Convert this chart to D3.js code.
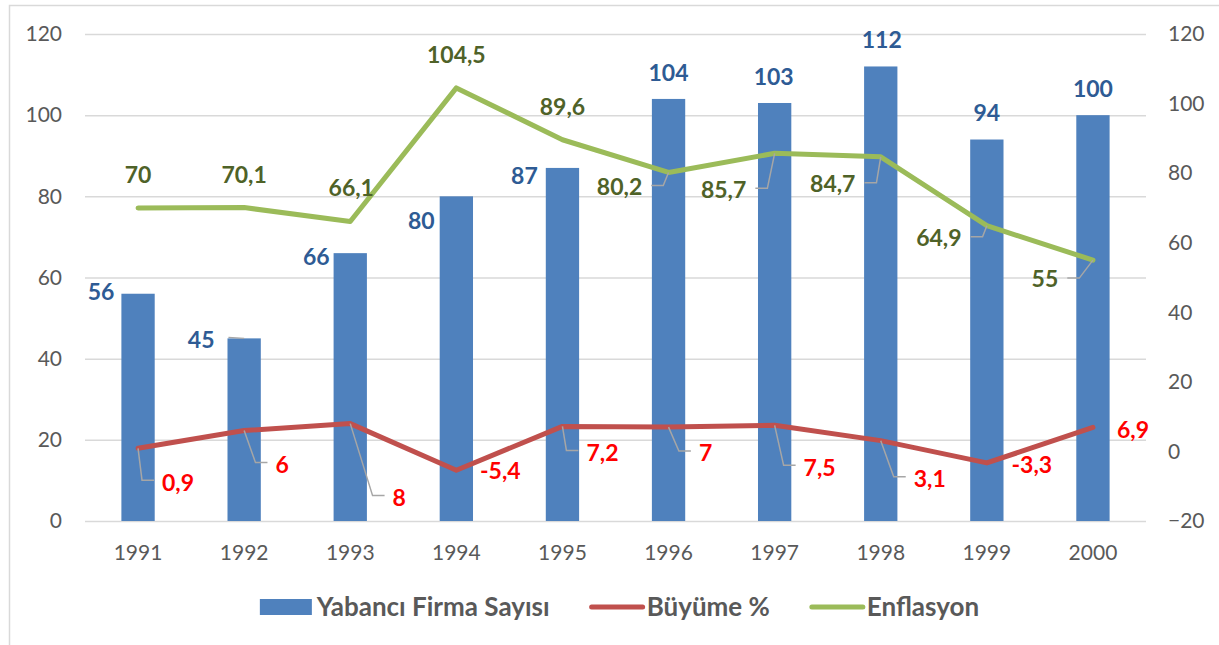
<!DOCTYPE html>
<html><head><meta charset="utf-8">
<script src="https://cdn.jsdelivr.net/npm/d3@7/dist/d3.min.js"></script>
<style>
body{margin:0;background:#fff;}
svg{display:block;font-family:Lato,"Open Sans",sans-serif;}
</style></head>
<body>
<svg id="chart" width="1219" height="645"></svg>
<script>
// ---- data ----
const years = ["1991","1992","1993","1994","1995","1996","1997","1998","1999","2000"];
const firmaSayisi = [56,45,66,80,87,104,103,112,94,100];
const buyume = [0.9,6,8,-5.4,7.2,7,7.5,3.1,-3.3,6.9];
const enflasyon = [70,70.1,66.1,104.5,89.6,80.2,85.7,84.7,64.9,55];
const leftTicks = [0,20,40,60,80,100,120];
const rightTicks = [-20,0,20,40,60,80,100,120];
const seriesNames = ["Yabancı Firma Sayısı","Büyüme %","Enflasyon"];

// label placement offsets (label centre relative to data point) and leader flags
const barLabelOff = [[-37,-2],[-43,1],[-34,4],[-35,24],[-38,8],[0,-26],[-1,-26],[1,-27],[0,-27],[0,-26]];
const barLeader = [0,1,0,0,0,0,0,0,0,0];
const redLabelOff = [[40,34],[38,34],[49,74],[44,1],[40,26],[37,26],[45,42],[49,38],[45,2],[40,2]];
const redLeader = [1,1,1,0,1,1,1,1,0,0];
const greenLabelOff = [[0,-33],[0,-33],[1,-34],[0,-33],[0,-33],[-49,14],[-51,36],[-48,27],[-48,12],[-48,19]];
const greenLeader = [0,0,0,0,0,1,1,1,1,1];

// ---- styles ----
const C = {bar:"#4F81BD", red:"#C0504D", green:"#9BBB59",
  barLbl:"#2E5B94", redLbl:"#FF0000", greenLbl:"#4F6228",
  grid:"#D9D9D9", axis:"#595959", leader:"#A6A6A6"};
const fmt = v => String(v).replace(".", ",");

const svg = d3.select("#chart");
const L = 85, R = 1146, T = 34, B = 521;

// frame
svg.append("rect").attr("x",9.5).attr("y",5.5).attr("width",1240).attr("height",700)
  .attr("fill","none").attr("stroke","#D9D9D9").attr("stroke-width",1.5);

const x = d3.scaleBand().domain(years).range([L,R]).padding(0);
const yL = d3.scaleLinear().domain([0,120]).range([B,T]);
const yR = d3.scaleLinear().domain([-20,120]).range([B,T]);
const cx = d => x(d) + x.bandwidth()/2;

// gridlines
const grid = svg.append("g").attr("transform",`translate(${L},0)`)
  .call(d3.axisLeft(yL).tickValues(leftTicks).tickSize(-(R-L)).tickFormat(""));
grid.select(".domain").remove();
grid.selectAll("line").attr("stroke",C.grid).attr("stroke-width",1.5);

const tickFont = "21px";
// left axis labels
const ax1 = svg.append("g").attr("transform",`translate(${L},0)`)
  .call(d3.axisLeft(yL).tickValues(leftTicks).tickSize(0).tickPadding(23));
ax1.select(".domain").remove();
ax1.selectAll("text").attr("fill",C.axis).style("font-size",tickFont).style("font-family","Lato");

// right axis labels
const ax2 = svg.append("g").attr("transform",`translate(${R},0)`)
  .call(d3.axisRight(yR).tickValues(rightTicks).tickSize(0).tickPadding(22));
ax2.select(".domain").remove();
ax2.selectAll("text").attr("fill",C.axis).style("font-size",tickFont).style("font-family","Lato");

// x axis labels
const ax3 = svg.append("g").attr("transform",`translate(0,${B})`)
  .call(d3.axisBottom(x).tickSize(0).tickPadding(24));
ax3.select(".domain").remove();
ax3.selectAll("text").attr("fill",C.axis).style("font-size",tickFont).style("font-family","Lato");

// bars
const bw = x.bandwidth()*0.314;
svg.append("g").selectAll("rect").data(firmaSayisi).join("rect")
  .attr("x",(d,i)=>cx(years[i])-bw/2).attr("width",bw)
  .attr("y",d=>yL(d)).attr("height",d=>yL(0)-yL(d)).attr("fill",C.bar);

// lines
const lineR = d3.line().x((d,i)=>cx(years[i])).y(d=>yR(d));
svg.append("path").datum(buyume).attr("d",lineR).attr("fill","none")
  .attr("stroke",C.red).attr("stroke-width",5).attr("stroke-linejoin","round").attr("stroke-linecap","round");
svg.append("path").datum(enflasyon).attr("d",lineR).attr("fill","none")
  .attr("stroke",C.green).attr("stroke-width",5).attr("stroke-linejoin","round").attr("stroke-linecap","round");

// labels
const leaders = svg.append("g");
function labels(vals, yScale, offs, lead, color, side){
  const g = svg.append("g");
  vals.forEach((v,i)=>{
    const px = cx(years[i]), py = yScale(v);
    const lx = px + offs[i][0], ly = py + offs[i][1];
    const t = g.append("text").attr("x",lx).attr("y",ly).attr("dy","0.36em")
      .attr("text-anchor","middle").attr("fill",color)
      .style("font-size","23px").style("font-weight","bold").style("font-family","Lato")
      .text(fmt(v));
    if(lead[i]){
      const bb = t.node().getBBox();
      let pts;
      if(side==="right"){
        const e = bb.x - 8;
        pts = [[px,py],[e-12,ly-2],[e,ly-2]];
      } else if(side==="left"){
        const e = bb.x + bb.width + 9;
        pts = [[px,py],[e+12,ly-1],[e,ly-1]];
      } else {
        const e = bb.x + bb.width + 14;
        pts = [[px,py],[e,ly-2]];
      }
      leaders.append("path").attr("d",d3.line()(pts)).attr("fill","none")
        .attr("stroke",C.leader).attr("stroke-width",1.5);
    }
  });
}
labels(firmaSayisi, yL, barLabelOff, barLeader, C.barLbl, "bar");
labels(buyume, yR, redLabelOff, redLeader, C.redLbl, "right");
labels(enflasyon, yR, greenLabelOff, greenLeader, C.greenLbl, "left");

// legend
const lg = svg.append("g");
let cur = 0;
seriesNames.forEach((n,i)=>{
  const it = lg.append("g").attr("transform",`translate(${cur},0)`);
  if(i===0) it.append("rect").attr("x",0).attr("y",-8).attr("width",52).attr("height",16).attr("fill",C.bar);
  else it.append("line").attr("x1",2).attr("x2",53).attr("y1",0).attr("y2",0)
    .attr("stroke",i===1?C.red:C.green).attr("stroke-width",5).attr("stroke-linecap","round");
  const t = it.append("text").attr("x",57).attr("dy","0.36em").attr("fill",C.axis)
    .style("font-size","26px").style("font-weight","bold").style("font-family","Lato").text(n);
  const w = 57 + t.node().getComputedTextLength();
  cur += w + 40;
});
const totalW = cur - 40;
lg.attr("transform",`translate(${619.5 - totalW/2},607)`);
</script>
</body></html>
